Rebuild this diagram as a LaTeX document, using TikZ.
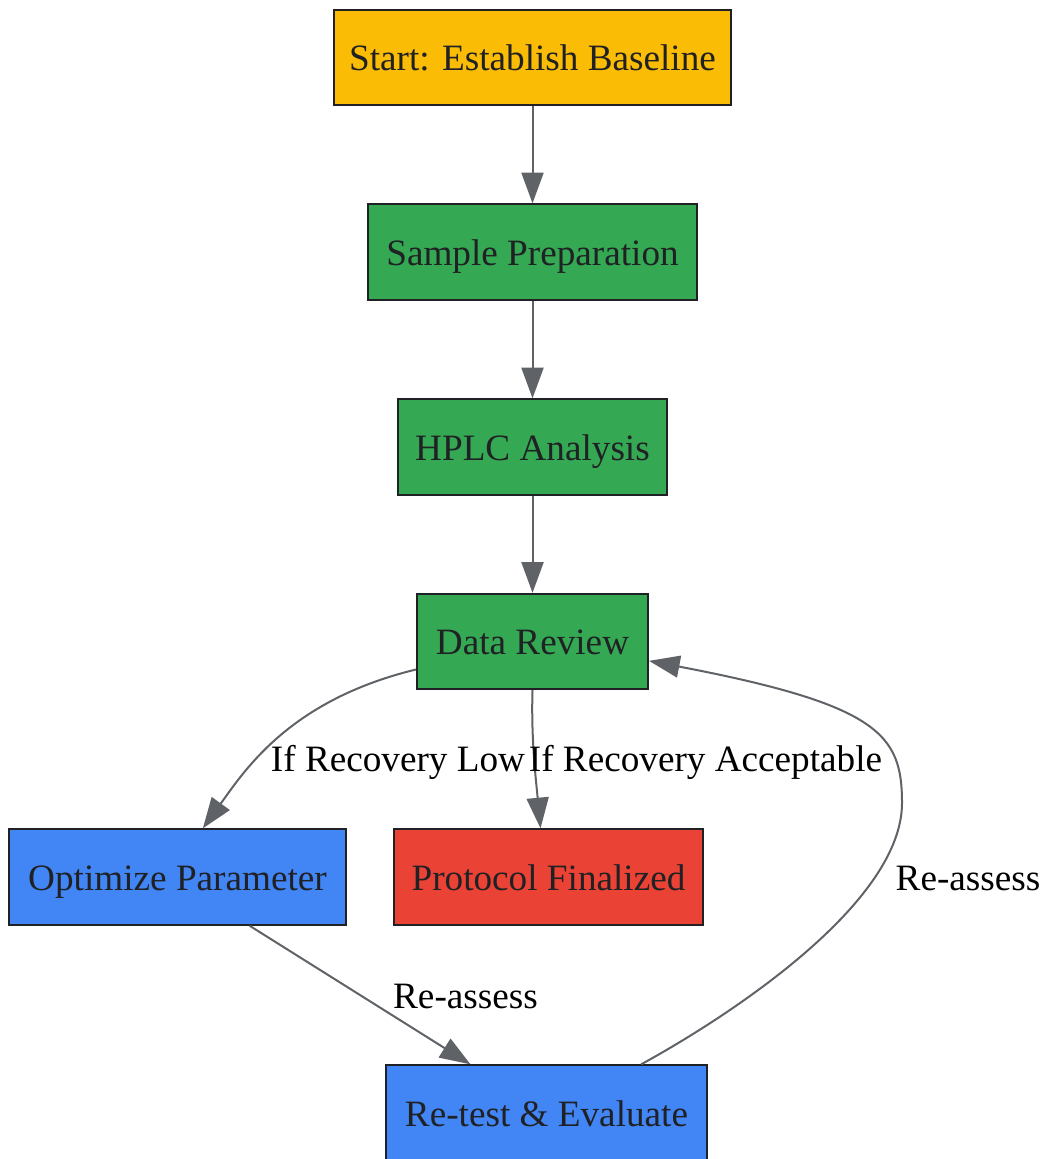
\documentclass[tikz,border=0pt]{standalone}
\usepackage{fontspec}
\setmainfont{Liberation Serif}
\usetikzlibrary{arrows.meta}
\definecolor{cyellow}{HTML}{FBBC05}
\definecolor{cgreen}{HTML}{34A853}
\definecolor{cblue}{HTML}{4285F4}
\definecolor{cred}{HTML}{EA4335}
\definecolor{cborder}{HTML}{202124}
\definecolor{cedge}{HTML}{5F6368}
\begin{document}
\begin{tikzpicture}[x=0.75pt,y=-0.75pt,
  box/.style={draw=cborder, line width=1.5pt, inner sep=0pt, text=cborder,
    font=\fontsize{27.9}{33}\selectfont, minimum height=71.5pt,
    text height=22pt, text depth=2pt},
  lbl/.style={inner sep=0pt, text=black, font=\fontsize{27.9}{33}\selectfont,
    text height=22pt, text depth=2pt},
  edge/.style={draw=cedge, line width=1.5pt, -{Triangle[length=23pt,width=16.5pt]}}]
\useasboundingbox (0,0) rectangle (1043,1159);
\node[box, fill=cyellow, minimum width=297.75pt] (start) at (532.5,57.5) {Start: Establish Baseline};
\node[box, fill=cgreen, minimum width=246.75pt] (prep) at (532.5,252) {Sample Preparation};
\node[box, fill=cgreen, minimum width=201.75pt] (hplc) at (532.5,447) {HPLC Analysis};
\node[box, fill=cgreen, minimum width=173.25pt] (review) at (532.5,641.5) {Data Review};
\node[box, fill=cblue, minimum width=252.75pt] (opt) at (177.5,877) {Optimize Parameter};
\node[box, fill=cred, minimum width=231.75pt] (final) at (548.5,877) {Protocol Finalized};
\node[box, fill=cblue, minimum width=240.75pt] (retest) at (546.5,1113) {Re-test \& Evaluate};

\draw[edge] (start) -- (prep);
\draw[edge] (prep) -- (hplc);
\draw[edge] (hplc) -- (review);
\draw[edge] ([yshift=-21pt]review.west) .. controls (290,700) and (245,770) .. ([xshift=19pt]opt.north);
\draw[edge] (review.south) .. controls (531,740) and (536,780) .. ([xshift=-6pt]final.north);
\draw[edge] ([xshift=54pt]opt.south) -- ([xshift=-57pt]retest.north);
\draw[edge] ([xshift=71pt]retest.north) .. controls (740,1010) and (902,900) .. (902,803)
  .. controls (902,735) and (880,705) .. ([yshift=-14.5pt]review.east);

\node[lbl] (l1) at (398,758.5) {If Recovery Low};
\node[lbl] (l2) at (705.5,758.5) {If Recovery Acceptable};
\node[lbl] (l3) at (465.5,995) {Re-assess};
\node[lbl] (l4) at (968,876.7) {Re-assess};
\end{tikzpicture}
\end{document}
